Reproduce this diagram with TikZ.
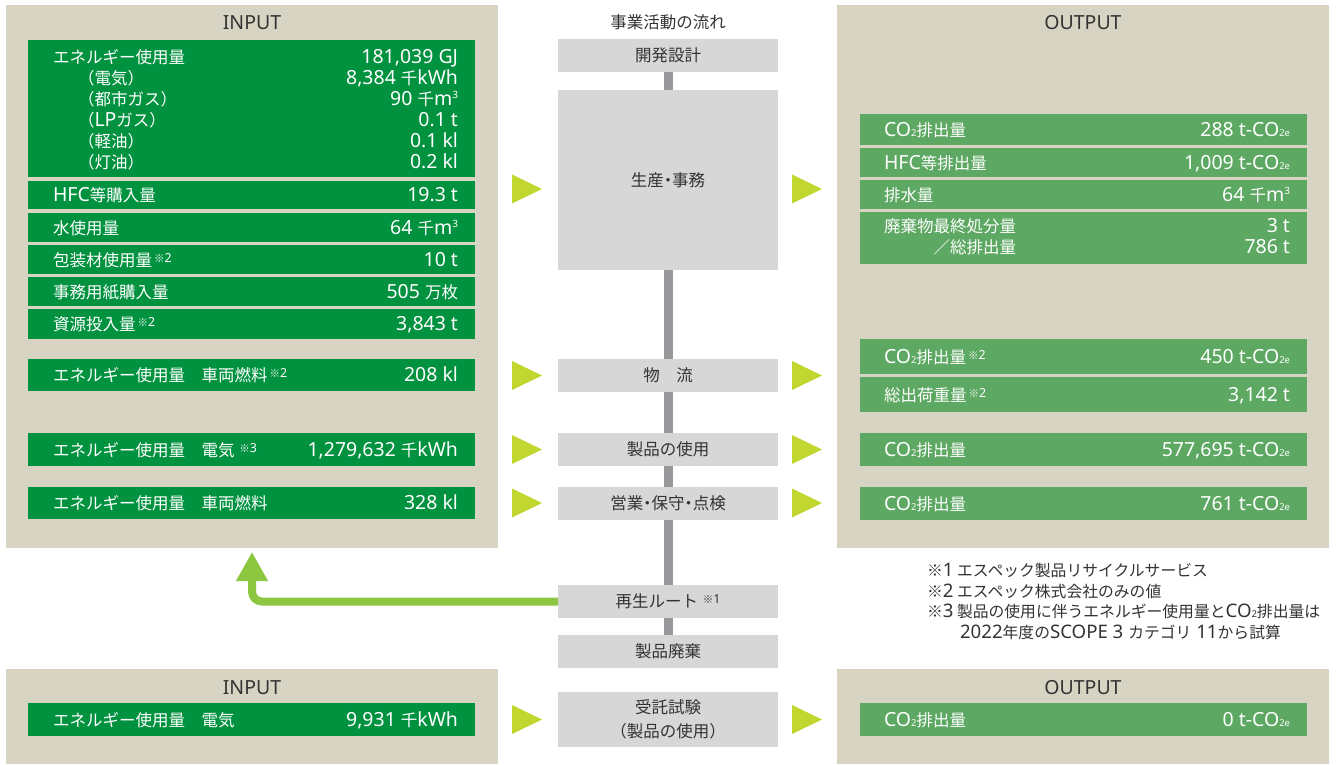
\documentclass[tikz,border=0pt]{standalone}
\usepackage{fontspec}
\setmainfont{Noto Sans CJK JP}
\newfontfamily\latn{Noto Sans}[Scale=1.18]
\usetikzlibrary{arrows.meta}
\definecolor{panel}{HTML}{D8D4C4}
\definecolor{ingreen}{HTML}{00923F}
\definecolor{outgreen}{HTML}{5DA862}
\definecolor{midgray}{HTML}{D7D7D7}
\definecolor{linegray}{HTML}{98989A}
\definecolor{trigreen}{HTML}{C1D72F}
\definecolor{retgreen}{HTML}{8DC641}
\definecolor{ink}{HTML}{333333}
\newcommand\subs[1]{{\fontsize{8}{9}\selectfont\latn #1}}
\newcommand\sups[1]{\raisebox{7pt}{\fontsize{8.5}{9}\selectfont\latn #1}}
\newcommand\nmark[1]{\kern2pt\raisebox{4pt}{\fontsize{10.5}{11}\selectfont ※{\latn #1}}}
\newcommand\mdot{{\kern-.25em・\kern-.25em}}
\newcommand\inrow[5]{%
  \node[inrowbox, minimum height={#3-#2}] (#1) at (251.5,{(#2+#3)/2}) {};
  \node[lab] (#1l) at (53,{(#2+#3)/2+6.5}) {#4};
  \node[val] (#1v) at (458,{(#2+#3)/2+6.5}) {#5};}
\newcommand\outrow[5]{%
  \node[outrowbox, minimum height={#3-#2}] (#1) at (1083.5,{(#2+#3)/2}) {};
  \node[lab] (#1l) at (884,{(#2+#3)/2+6.5}) {#4};
  \node[val] (#1v) at (1290,{(#2+#3)/2+6.5}) {#5};}
\newcommand\arrowtri[2]{\fill[trigreen] (#1,{#2-14.5}) -- ({#1+30},#2) -- (#1,{#2+14.5}) -- cycle;}
\begin{document}
\begin{tikzpicture}[x=1pt,y=-1pt,
  every node/.style={inner sep=0pt, outer sep=0pt},
  font=\fontsize{16.5}{20}\selectfont,
  panelbox/.style={fill=panel, minimum width=492pt},
  inrowbox/.style={fill=ingreen, minimum width=447pt},
  outrowbox/.style={fill=outgreen, minimum width=447pt},
  midbox/.style={fill=midgray, minimum width=220pt, text=ink, align=center},
  lab/.style={anchor=base west, text=white},
  val/.style={anchor=base east, text=white},
  ttl/.style={text=ink},
  fn/.style={anchor=base west, text=ink, font=\fontsize{15.8}{19}\selectfont},
  conn/.style={draw=linegray, line width=9pt},
  retarrow/.style={draw=retgreen, line width=8pt, rounded corners=10pt, -{Triangle[width=30pt,length=29pt]}, shorten >=4pt}]
\useasboundingbox (0,0) rectangle (1344,764);
\fill[white] (0,0) rectangle (1344,764);
% panels
\node[panelbox, minimum height=543pt] (inpanel) at (252,276.5) {};
\node[panelbox, minimum height=543pt] (outpanel) at (1082.5,276.5) {};
\node[panelbox, minimum height=95pt] (inpanel2) at (252,716.5) {};
\node[panelbox, minimum height=95pt] (outpanel2) at (1082.5,716.5) {};
% titles
\node[ttl] (intitle) at (252,22.5) {\latn INPUT};
\node[ttl] (outtitle) at (1083,22.5) {\latn OUTPUT};
\node[ttl] (flowtitle) at (668,22) {事業活動の流れ};
\node[ttl] (intitle2) at (252,687.5) {\latn INPUT};
\node[ttl] (outtitle2) at (1083,687.5) {\latn OUTPUT};
% input energy block
\node[inrowbox, minimum height=137pt] (r1) at (251.5,108.5) {};
\node[lab] (r1a) at (53,63.5) {エネルギー使用量};
\node[val] (r1av) at (458,63.5) {\latn 181,039 GJ};
\node[lab] (r1b) at (78,84.5) {（電気）};
\node[val] (r1bv) at (458,84.5) {{\latn 8,384 }千{\latn kWh}};
\node[lab] (r1c) at (78,105.5) {（都市ガス）};
\node[val] (r1cv) at (458,105.5) {{\latn 90 }千{\latn m}\sups{3}};
\node[lab] (r1d) at (78,126.5) {（{\latn LP}ガス）};
\node[val] (r1dv) at (458,126.5) {\latn 0.1 t};
\node[lab] (r1e) at (78,147.5) {（軽油）};
\node[val] (r1ev) at (458,147.5) {\latn 0.1 kl};
\node[lab] (r1f) at (78,168.5) {（灯油）};
\node[val] (r1fv) at (458,168.5) {\latn 0.2 kl};
\inrow{r2}{181}{209}{{\latn HFC}等購入量}{\latn 19.3 t}
\inrow{r3}{213}{242}{水使用量}{{\latn 64 }千{\latn m}\sups{3}}
\inrow{r4}{245}{274}{包装材使用量\nmark{2}}{\latn 10 t}
\inrow{r5}{277}{306}{事務用紙購入量}{{\latn 505 }万枚}
\inrow{r6}{309}{339}{資源投入量\nmark{2}}{\latn 3,843 t}
\inrow{r7}{359}{391}{エネルギー使用量　車両燃料\nmark{2}}{\latn 208 kl}
\inrow{r8}{433}{466}{エネルギー使用量　電気\,\nmark{3}}{{\latn 1,279,632 }千{\latn kWh}}
\inrow{r9}{487}{519}{エネルギー使用量　車両燃料}{\latn 328 kl}
\inrow{rb}{703}{736}{エネルギー使用量　電気}{{\latn 9,931 }千{\latn kWh}}
% output rows
\outrow{o1}{114}{145}{{\latn CO}\subs{2}排出量}{{\latn 288 t-CO}\subs{2e}}
\outrow{o2}{148}{177}{{\latn HFC}等排出量}{{\latn 1,009 t-CO}\subs{2e}}
\outrow{o3}{180}{209}{排水量}{{\latn 64 }千{\latn m}\sups{3}}
\node[outrowbox, minimum height=52pt] (o4) at (1083.5,238) {};
\node[lab] (o4a) at (884,232.5) {廃棄物最終処分量};
\node[val] (o4av) at (1290,232.5) {\latn 3 t};
\node[lab] (o4b) at (933.5,253.5) {／総排出量};
\node[val] (o4bv) at (1290,253.5) {\latn 786 t};
\outrow{o5}{339}{374}{{\latn CO}\subs{2}排出量\nmark{2}}{{\latn 450 t-CO}\subs{2e}}
\outrow{o6}{377}{412}{総出荷重量\nmark{2}}{\latn 3,142 t}
\outrow{o7}{433}{466}{{\latn CO}\subs{2}排出量}{{\latn 577,695 t-CO}\subs{2e}}
\outrow{o8}{487}{520}{{\latn CO}\subs{2}排出量}{{\latn 761 t-CO}\subs{2e}}
\outrow{ob}{703}{736}{{\latn CO}\subs{2}排出量}{{\latn 0 t-CO}\subs{2e}}
% middle flow
\node[midbox, minimum height=33pt] (dev) at (668,55.5) {開発設計};
\node[midbox, minimum height=180pt] (prod) at (668,180) {生産\mdot 事務};
\node[midbox, minimum height=33pt] (logi) at (668,375.5) {物　流};
\node[midbox, minimum height=33pt] (use) at (668,449.5) {製品の使用};
\node[midbox, minimum height=33pt] (sales) at (668,503.5) {営業\mdot 保守\mdot 点検};
\node[midbox, minimum height=33pt] (regen) at (668,601.5) {再生ルート\,\nmark{1}};
\node[midbox, minimum height=33pt] (disp) at (668,651.5) {製品廃棄};
\node[midbox, minimum height=55pt, font=\fontsize{16.5}{24.5}\selectfont] (test) at (668,719.5) {受託試験\\（製品の使用）};
\draw[conn] (dev) -- (prod);
\draw[conn] (prod) -- (logi);
\draw[conn] (logi) -- (use);
\draw[conn] (use) -- (sales);
\draw[conn] (sales) -- (regen);
\draw[conn] (regen) -- (disp);
% flow triangles
\arrowtri{512}{189}
\arrowtri{792}{189}
\arrowtri{512}{375.5}
\arrowtri{792}{375.5}
\arrowtri{512}{449.5}
\arrowtri{792}{449.5}
\arrowtri{512}{503}
\arrowtri{792}{503}
\arrowtri{512}{719.5}
\arrowtri{792}{719.5}
% return route
\draw[retarrow] (regen.west) -| (inpanel.south);
% footnotes
\node[fn] (f1) at (927,576) {※{\latn 1} エスペック製品リサイクルサービス};
\node[fn] (f2) at (927,597) {※{\latn 2} エスペック株式会社のみの値};
\node[fn] (f3) at (927,617) {※{\latn 3} 製品の使用に伴うエネルギー使用量と{\latn CO}\subs{2}排出量は};
\node[fn] (f4) at (960,638) {{\latn 2022}年度の{\latn SCOPE 3 }カテゴリ{\latn\ 11}から試算};
\end{tikzpicture}
\end{document}
